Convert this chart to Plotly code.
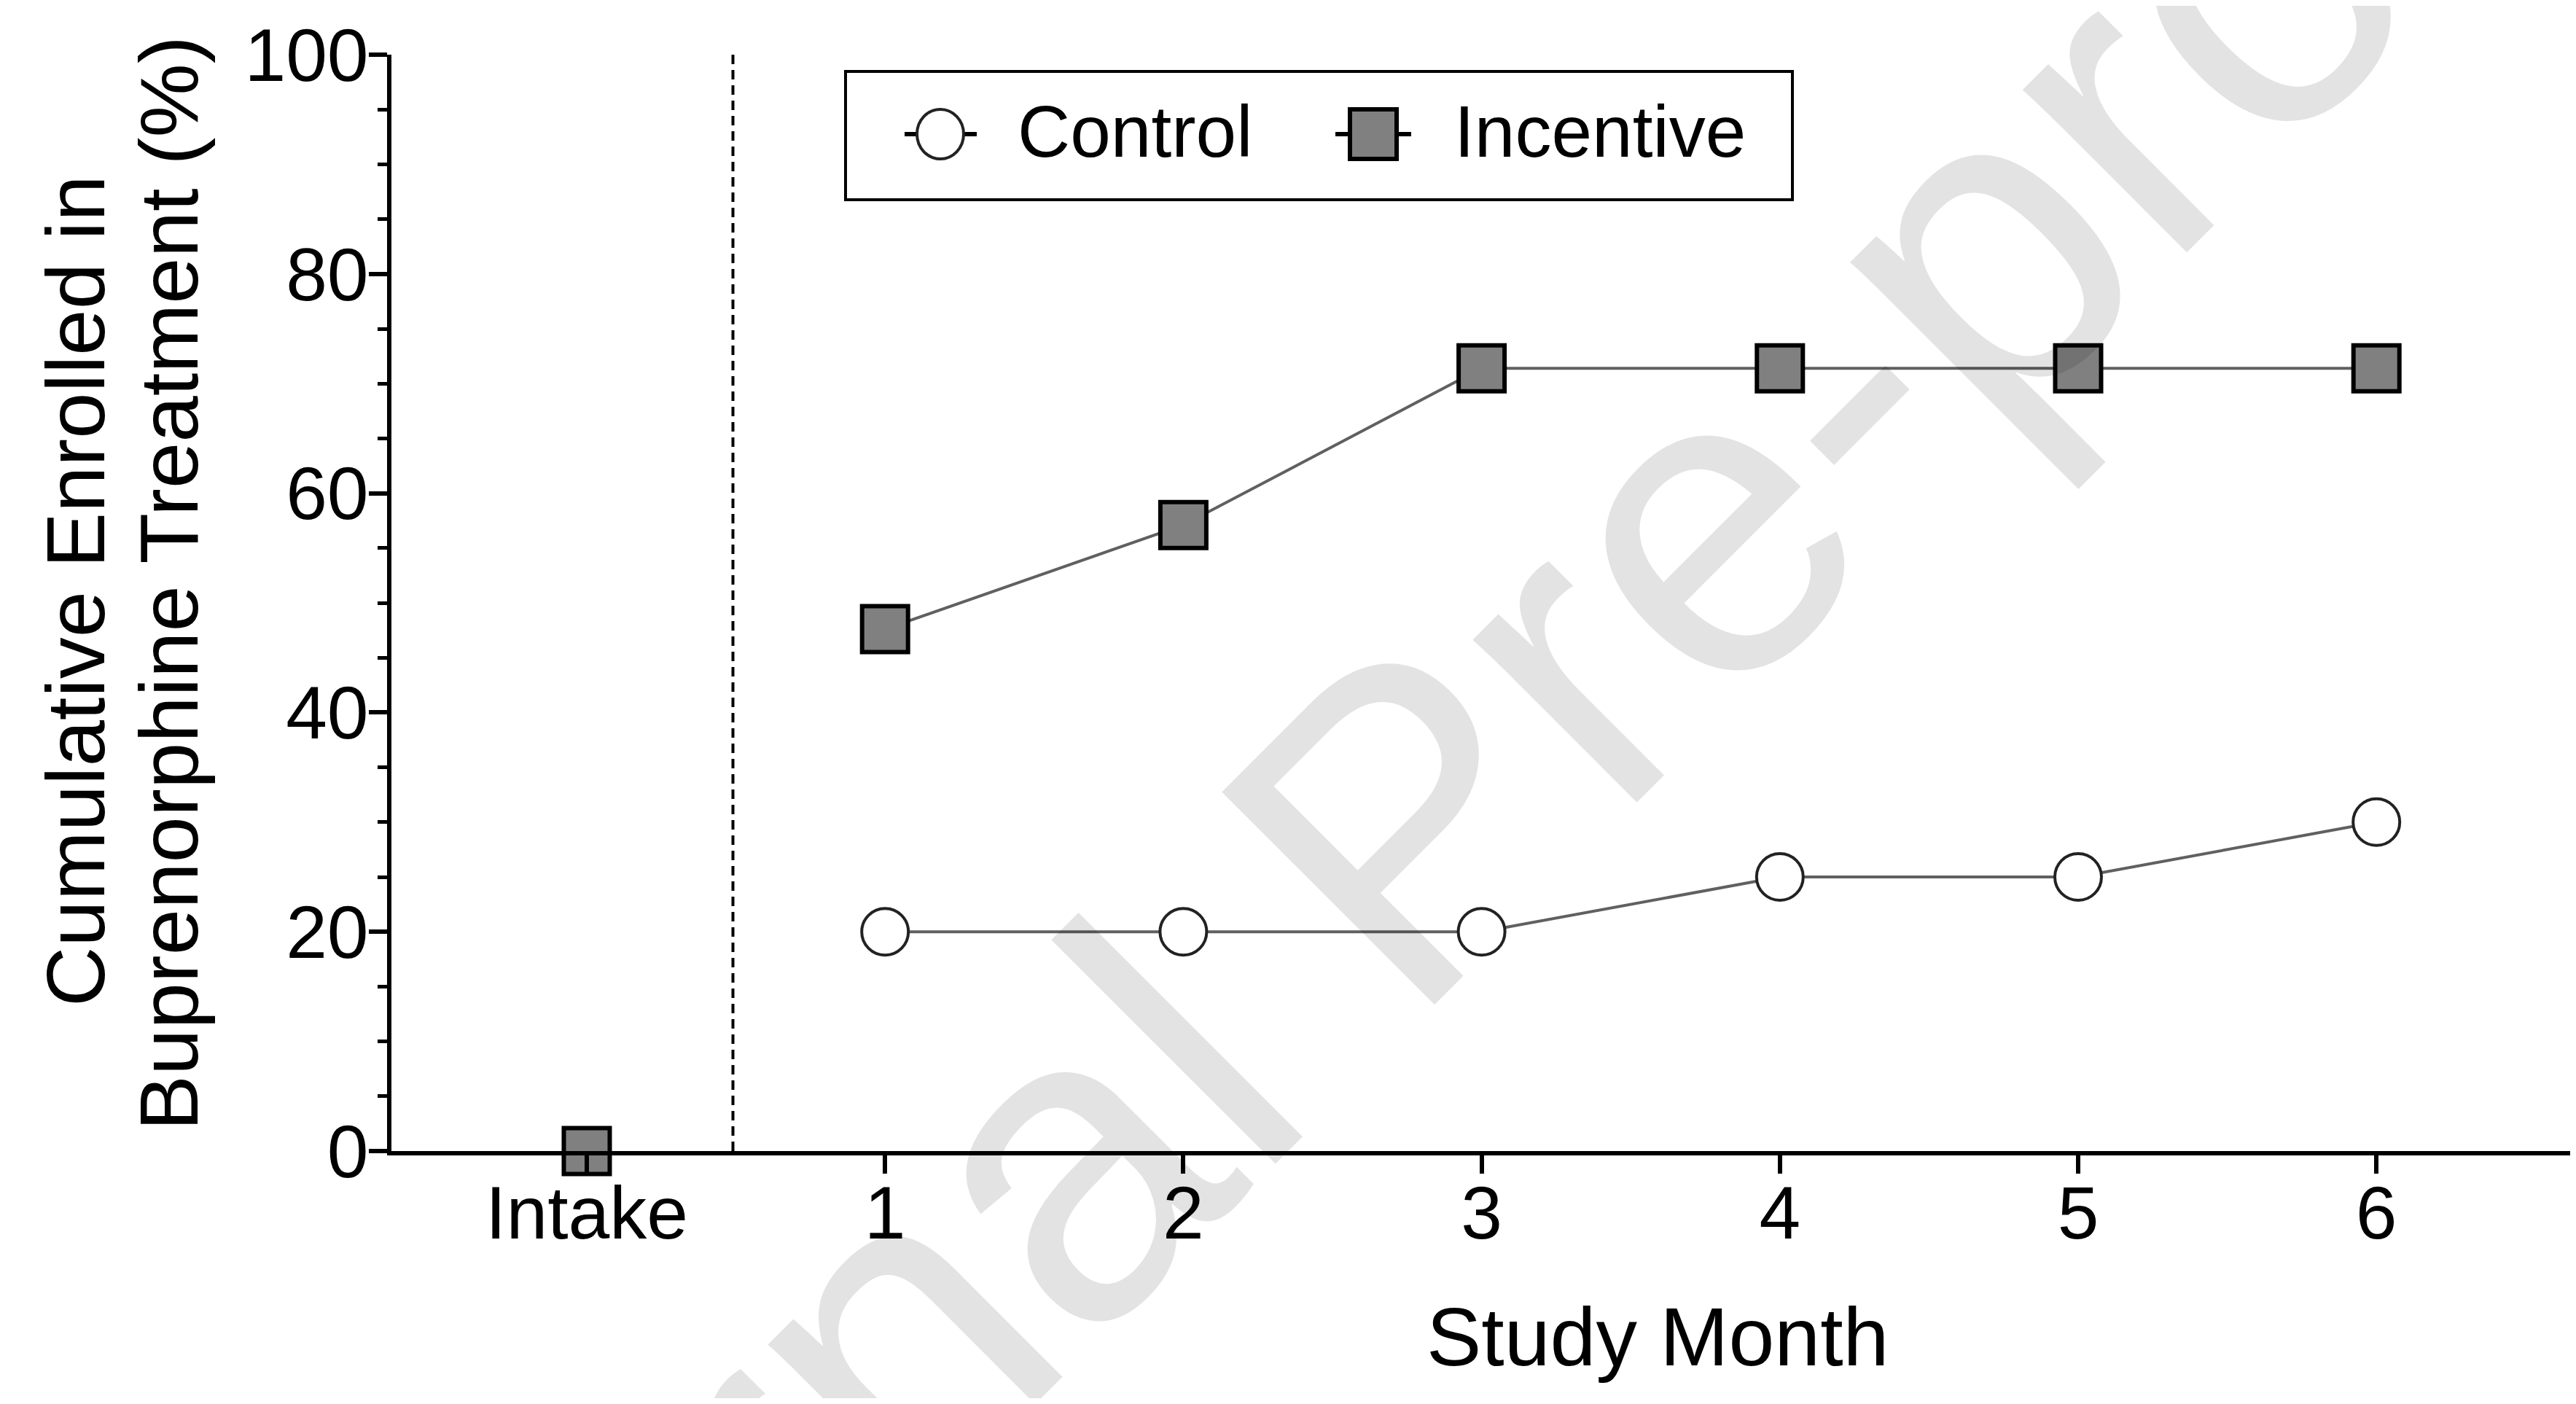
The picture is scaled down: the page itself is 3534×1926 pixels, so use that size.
import plotly.graph_objects as go

# ---------------- data ----------------
categories = ["Intake", "1", "2", "3", "4", "5", "6"]
month_pos = [0, 1, 2, 3, 4, 5, 6]
control = [0, 20, 20, 20, 25, 25, 30]
incentive = [0, 47.6, 57.1, 71.4, 71.4, 71.4, 71.4]
series_names = ["Control", "Incentive"]
y_ticks = [0, 20, 40, 60, 80, 100]
x_title = "Study Month"
y_title_lines = ["Cumulative Enrolled in", "Buprenorphine Treatment (%)"]
watermark = "Journal Pre-proof"

# ---------------- geometry (figure pixels; page body adds an 8px offset) ----------------
OFF = 8
W, H = 3534 - 2 * OFF, 1926 - 2 * OFF
L, T = 529, 67
PLOT_BOTTOM = 1571
R, B = 0, H - PLOT_BOTTOM
PW, PH = W - L - R, H - T - B
X0_PX, X_UNIT = 805.0 - OFF, 409.2      # figure pixel of "Intake" and pixels per month
x_range = [(L - X0_PX) / X_UNIT, (W - R - X0_PX) / X_UNIT]


def px_x(sx):
    """screen x pixel -> paper fraction"""
    return (sx - OFF - L) / PW


def px_y(sy):
    """screen y pixel -> paper fraction"""
    return (T + PH - (sy - OFF)) / PH


FONT = "Liberation Sans, Arial, Helvetica, sans-serif"
GRAY_FILL = "#808080"
LINE_COL = "#606060"

fig = go.Figure()

# Intake points (not connected to the follow-up months)
fig.add_trace(go.Scatter(
    x=month_pos[:1], y=control[:1], mode="markers", showlegend=False,
    marker=dict(symbol="circle", size=64, color="white",
                line=dict(color="#222222", width=4)),
    cliponaxis=False, hoverinfo="skip"))
fig.add_trace(go.Scatter(
    x=month_pos[:1], y=incentive[:1], mode="markers", showlegend=False,
    marker=dict(symbol="square", size=63, color=GRAY_FILL,
                line=dict(color="black", width=6)),
    cliponaxis=False, hoverinfo="skip"))

# Follow-up months
fig.add_trace(go.Scatter(
    x=month_pos[1:], y=control[1:], mode="lines+markers", name=series_names[0],
    showlegend=False,
    line=dict(color=LINE_COL, width=4),
    marker=dict(symbol="circle", size=64, color="white",
                line=dict(color="#222222", width=4)),
    cliponaxis=False))
fig.add_trace(go.Scatter(
    x=month_pos[1:], y=incentive[1:], mode="lines+markers", name=series_names[1],
    showlegend=False,
    line=dict(color=LINE_COL, width=4),
    marker=dict(symbol="square", size=63, color=GRAY_FILL,
                line=dict(color="black", width=6)),
    cliponaxis=False))

shapes = []
# dashed separator between intake and follow-up
shapes.append(dict(type="line", xref="x", yref="y", x0=0.49, x1=0.49, y0=0, y1=100,
                   line=dict(color="black", width=4, dash="13px,8px"), layer="above"))
# x-axis baseline continued to the right edge of the figure
shapes.append(dict(type="line", xref="paper", yref="paper", x0=0.5, x1=1.0,
                   y0=-3 / PH, y1=-3 / PH,
                   line=dict(color="black", width=6), layer="above"))

# custom legend (screen pixel positions)
box = (1160, 98, 2459, 274)
shapes.append(dict(type="rect", xref="paper", yref="paper",
                   x0=px_x(box[0]), x1=px_x(box[2]), y0=px_y(box[3]), y1=px_y(box[1]),
                   line=dict(color="black", width=4), fillcolor="white", layer="above"))
leg_y = 184
shapes.append(dict(type="line", xref="paper", yref="paper",
                   x0=px_x(1241), x1=px_x(1340), y0=px_y(leg_y), y1=px_y(leg_y),
                   line=dict(color="black", width=6), layer="above"))
shapes.append(dict(type="circle", xref="paper", yref="paper",
                   x0=px_x(1290 - 32), x1=px_x(1290 + 32), y0=px_y(leg_y + 34), y1=px_y(leg_y - 34),
                   line=dict(color="#222222", width=4), fillcolor="white", layer="above"))
shapes.append(dict(type="line", xref="paper", yref="paper",
                   x0=px_x(1832), x1=px_x(1936), y0=px_y(leg_y), y1=px_y(leg_y),
                   line=dict(color="black", width=6), layer="above"))
shapes.append(dict(type="rect", xref="paper", yref="paper",
                   x0=px_x(1884 - 32), x1=px_x(1884 + 32), y0=px_y(leg_y + 34), y1=px_y(leg_y - 34),
                   line=dict(color="black", width=6), fillcolor=GRAY_FILL, layer="above"))

annotations = []
annotations.append(dict(text=series_names[0], xref="paper", yref="paper",
                        x=px_x(1394), y=px_y(180), xanchor="left", yanchor="middle",
                        showarrow=False, font=dict(family=FONT, size=100, color="black")))
annotations.append(dict(text=series_names[1], xref="paper", yref="paper",
                        x=px_x(1993), y=px_y(180), xanchor="left", yanchor="middle",
                        showarrow=False, font=dict(family=FONT, size=100, color="black")))

# axis titles
annotations.append(dict(text=x_title, xref="paper", yref="paper",
                        x=px_x(2274), y=px_y(1834), xanchor="center", yanchor="middle",
                        showarrow=False, font=dict(family=FONT, size=113, color="black")))
annotations.append(dict(text=y_title_lines[0], xref="paper", yref="paper",
                        x=px_x(103), y=px_y(811), xanchor="center", yanchor="middle",
                        textangle=-90, showarrow=False,
                        font=dict(family=FONT, size=114, color="black")))
annotations.append(dict(text=y_title_lines[1], xref="paper", yref="paper",
                        x=px_x(231), y=px_y(800), xanchor="center", yanchor="middle",
                        textangle=-90, showarrow=False,
                        font=dict(family=FONT, size=114, color="black")))

# watermark
annotations.append(dict(text=watermark, xref="paper", yref="paper",
                        x=px_x(1918), y=px_y(1137), xanchor="center", yanchor="middle",
                        textangle=-45, showarrow=False,
                        font=dict(family=FONT, size=600, color="rgba(0,0,0,0.11)")))

fig.update_layout(
    width=W, height=H,
    margin=dict(l=L, r=R, t=T, b=B, pad=0, autoexpand=False),
    paper_bgcolor="white", plot_bgcolor="white",
    showlegend=False,
    shapes=shapes, annotations=annotations,
    font=dict(family=FONT, color="black"),
)
fig.update_xaxes(
    range=x_range, tickmode="array", tickvals=month_pos, ticktext=categories,
    showline=True, linecolor="black", linewidth=6,
    ticks="outside", ticklen=25, tickwidth=6, tickcolor="black",
    ticklabelstandoff=-33,
    tickfont=dict(family=FONT, size=102, color="black"),
    showgrid=False, zeroline=False, fixedrange=True, automargin=False,
)
fig.update_yaxes(
    range=[0, 100], tickmode="array", tickvals=y_ticks,
    showline=True, linecolor="black", linewidth=6,
    ticks="outside", ticklen=25, tickwidth=6, tickcolor="black",
    minor=dict(dtick=5, ticks="outside", ticklen=13, tickwidth=5, tickcolor="black"),
    ticklabelstandoff=-20,
    tickfont=dict(family=FONT, size=102, color="black"),
    showgrid=False, zeroline=False, fixedrange=True, automargin=False,
)

fig.write_html("out.html")
